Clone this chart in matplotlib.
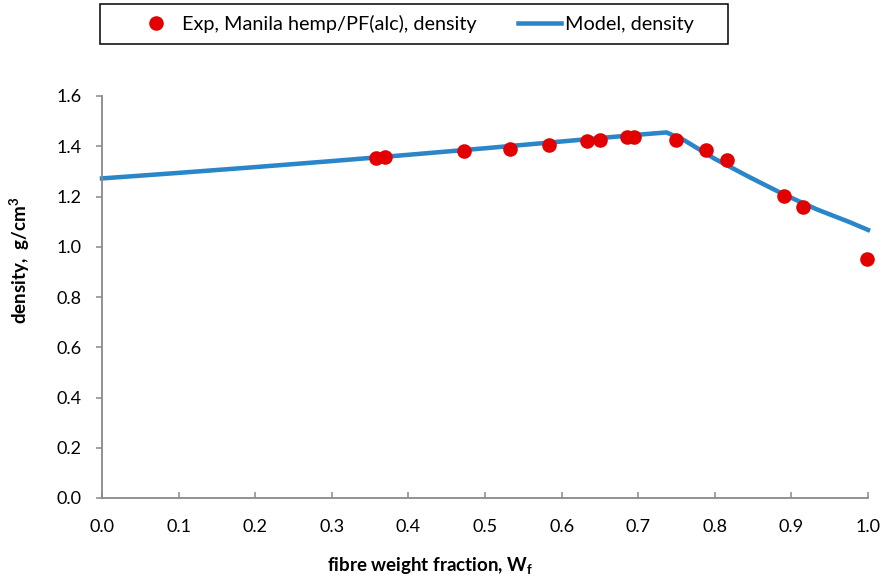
import matplotlib
matplotlib.use("Agg")
import matplotlib.pyplot as plt
from matplotlib.patches import Rectangle

plt.rcParams['font.family'] = ['Lato', 'DejaVu Sans']
plt.rcParams['mathtext.fontset'] = 'custom'
plt.rcParams['mathtext.rm'] = 'Lato'
plt.rcParams['mathtext.bf'] = 'Lato:bold'

# experimental points
exp_wf = [0.358, 0.370, 0.473, 0.533, 0.583, 0.633, 0.650, 0.686, 0.695,
          0.749, 0.788, 0.816, 0.890, 0.915, 0.999]
exp_density = [1.353, 1.358, 1.381, 1.391, 1.404, 1.419, 1.423, 1.436, 1.436,
               1.423, 1.385, 1.345, 1.203, 1.158, 0.952]

# model curve
model_wf = [0.0, 0.1, 0.2, 0.3, 0.4, 0.5, 0.6, 0.7, 0.737,
            0.76, 0.80, 0.846, 0.889, 0.933, 0.976, 1.0]
model_density = [1.272, 1.294, 1.317, 1.341, 1.366, 1.392, 1.419, 1.446, 1.455,
                 1.424, 1.350, 1.276, 1.210, 1.149, 1.098, 1.067]

xticks = [0.0, 0.1, 0.2, 0.3, 0.4, 0.5, 0.6, 0.7, 0.8, 0.9, 1.0]
yticks = [0.0, 0.2, 0.4, 0.6, 0.8, 1.0, 1.2, 1.4, 1.6]

W, H = 883, 582
fig = plt.figure(figsize=(W / 100, H / 100), dpi=100)
ax = fig.add_axes([102 / W, 1 - 498 / H, 766 / W, 402 / H])

ax.plot(model_wf, model_density, color="#2A86C8", lw=3.25,
        label="Model, density", zorder=2, clip_on=False)
ax.plot(exp_wf, exp_density, "o", color="#E30000", ms=10.5, mec="none",
        label="Exp, Manila hemp/PF(alc), density", zorder=3, clip_on=False)

ax.set_xlim(0, 1.0)
ax.set_ylim(0, 1.6)
ax.set_xticks(xticks)
ax.set_yticks(yticks)
ax.set_xticklabels([f"{v:.1f}" for v in xticks])
ax.set_yticklabels([f"{v:.1f}" for v in yticks])
ax.tick_params(labelsize=13, color="#898989", width=1.1)
ax.tick_params(axis="x", direction="in", length=4.5, pad=15)
ax.tick_params(axis="y", direction="out", length=4, pad=11)

for s in ["top", "right"]:
    ax.spines[s].set_visible(False)
for s in ["left", "bottom"]:
    ax.spines[s].set_color("#898989")
    ax.spines[s].set_linewidth(1.3)

ax.set_xlabel(r"fibre weight fraction, W$_\mathbf{f}$", fontsize=13.5,
              fontweight="bold")
ax.set_ylabel(r"density,  g/cm$^\mathbf{3}$", fontsize=13.5,
              fontweight="bold")
ax.xaxis.set_label_coords((430 - 102) / 766, (498 - 556) / 402)
ax.yaxis.set_label_coords((32 - 102) / 766, (498 - 260) / 402)

# legend box
fig.patches.append(Rectangle((100 / W, 1 - 44 / H), 628 / W, 40 / H,
                             transform=fig.transFigure, fill=False,
                             edgecolor="black", lw=1.1))
handles, labels = ax.get_legend_handles_labels()
leg = fig.legend(handles[::-1], labels[::-1], ncol=2,
                 loc="center left", bbox_to_anchor=(125 / W, 1 - 24 / H),
                 frameon=False, fontsize=14.3, borderpad=0,
                 handlelength=2.15, handletextpad=0.2, columnspacing=2.1)

fig.savefig("out.png", dpi=100)
